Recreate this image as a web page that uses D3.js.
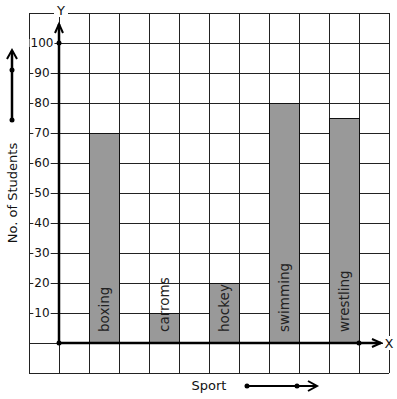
<!DOCTYPE html>
<html>
<head>
<meta charset="utf-8">
<script src="https://cdn.jsdelivr.net/npm/d3@7"></script>
<style>
  body { margin: 0; background: #fff; }
  text { font-family: "DejaVu Sans", sans-serif; fill: #111; }
</style>
</head>
<body>
<svg width="397" height="399"></svg>
<script>
const sports = ['boxing', 'carroms', 'hockey', 'swimming', 'wrestling'];
const students = [70, 10, 20, 80, 75];
const yTicks = [10, 20, 30, 40, 50, 60, 70, 80, 90, 100];

const svg = d3.select('svg');

// grid units: one cell = 10 students / one column
const y = d3.scaleLinear().domain([-10, 110]).range([373, 13]);
const gx = d3.scaleLinear().domain([-1, 11]).range([29, 389]);
const x = d3.scaleBand().domain(sports).range([74, 374])
  .paddingInner(0.5).paddingOuter(0.25);

const grid = svg.append('g').attr('stroke', '#222').attr('stroke-width', 1);
grid.selectAll('line.h')
  .data(d3.range(-10, 111, 10))
  .enter().append('line')
  .attr('x1', gx(-1)).attr('x2', gx(11))
  .attr('y1', d => Math.round(y(d)) + 0.5)
  .attr('y2', d => Math.round(y(d)) + 0.5);
grid.selectAll('line.v')
  .data(d3.range(-1, 12))
  .enter().append('line')
  .attr('y1', y(110)).attr('y2', y(-10))
  .attr('x1', d => Math.round(gx(d)) + 0.5)
  .attr('x2', d => Math.round(gx(d)) + 0.5);

// bars
svg.append('g').selectAll('rect')
  .data(sports)
  .enter().append('rect')
  .attr('x', d => x(d) + 0.5)
  .attr('y', (d, i) => Math.round(y(students[i])) + 0.5)
  .attr('width', x.bandwidth())
  .attr('height', (d, i) => y(0) - Math.round(y(students[i])))
  .attr('fill', '#999')
  .attr('stroke', '#111')
  .attr('stroke-width', 1);

svg.append('g').selectAll('text')
  .data(sports)
  .enter().append('text')
  .attr('transform', d => `translate(${x(d) + x.bandwidth() / 2},${y(0) - 11}) rotate(-90)`)
  .attr('dy', '0.35em')
  .attr('font-size', 13.5)
  .style('fill', '#222')
  .text(d => d);

// y tick labels with white backing
const yl = svg.append('g');
yTicks.forEach(t => {
  const g = yl.append('g').attr('transform', `translate(42,${y(t)})`);
  const txt = g.append('text')
    .attr('text-anchor', 'middle')
    .attr('dy', '0.36em')
    .attr('font-size', 12)
    .text(t);
  const w = txt.node().getComputedTextLength();
  g.insert('rect', 'text')
    .attr('x', -w / 2 - 1).attr('y', -4)
    .attr('width', w + 2).attr('height', 8)
    .attr('fill', '#fff');
});

// axes
const axes = svg.append('g').attr('stroke', '#000').attr('fill', 'none')
  .attr('stroke-width', 2.5);
axes.append('line')
  .attr('x1', gx(0)).attr('y1', y(0)).attr('x2', gx(0)).attr('y2', 24);
axes.append('path').attr('stroke-width', 2)
  .attr('d', `M${gx(0) - 4},33 L${gx(0)},24 L${gx(0) + 4},33`);
axes.append('line')
  .attr('x1', gx(0)).attr('y1', y(0)).attr('x2', 381).attr('y2', y(0));
axes.append('path').attr('stroke-width', 2)
  .attr('d', `M372,${y(0) - 4} L381,${y(0)} L372,${y(0) + 4}`);

svg.selectAll('circle.ax')
  .data([[gx(0), y(0)], [gx(0), y(100)], [gx(10), y(0)]])
  .enter().append('circle')
  .attr('cx', d => d[0]).attr('cy', d => d[1]).attr('r', 2.5)
  .attr('fill', '#000');

// axis letters
svg.append('rect').attr('x', 54).attr('y', 3).attr('width', 14).attr('height', 14).attr('fill', '#fff');
svg.append('text').attr('x', 61).attr('y', 15).attr('text-anchor', 'middle')
  .attr('font-size', 13).text('Y');
svg.append('rect').attr('x', 383).attr('y', 336).attr('width', 12).attr('height', 14).attr('fill', '#fff');
svg.append('text').attr('x', 389).attr('y', 348).attr('text-anchor', 'middle')
  .attr('font-size', 13).text('X');

// axis titles
svg.append('text')
  .attr('transform', `translate(17,${y(50)}) rotate(-90)`)
  .attr('text-anchor', 'middle')
  .attr('font-size', 13)
  .text('No. of Students');
svg.append('text')
  .attr('x', 209).attr('y', 390)
  .attr('text-anchor', 'middle')
  .attr('font-size', 13)
  .text('Sport');

// direction arrows
const dir = svg.append('g').attr('stroke', '#000').attr('fill', 'none');
dir.append('line').attr('stroke-width', 2.5)
  .attr('x1', 12).attr('y1', 120).attr('x2', 12).attr('y2', 51);
dir.append('path').attr('stroke-width', 2)
  .attr('d', 'M7,59 L12,50 L17,59');
dir.append('line').attr('stroke-width', 2)
  .attr('x1', 247).attr('y1', 386).attr('x2', 317).attr('y2', 386);
dir.append('path').attr('stroke-width', 2)
  .attr('d', 'M308,381 L317,386 L308,391');
svg.selectAll('circle.dir')
  .data([[12, 120], [12, 70], [247, 386], [297, 386]])
  .enter().append('circle')
  .attr('cx', d => d[0]).attr('cy', d => d[1]).attr('r', 2.5)
  .attr('fill', '#000');
</script>
</body>
</html>
